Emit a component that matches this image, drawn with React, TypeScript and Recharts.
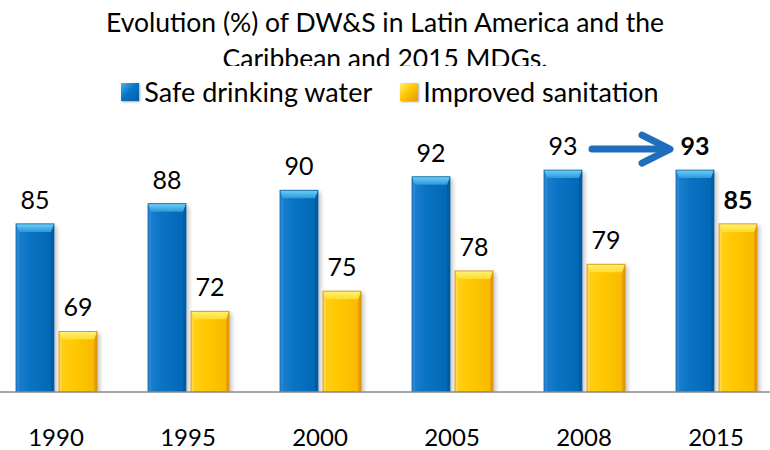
import React from 'react';
import { BarChart, Bar, XAxis, YAxis, LabelList, Legend } from 'recharts';

// Coverage (%) by year
const years = ['1990', '1995', '2000', '2005', '2008', '2015'];
const water = [85, 88, 90, 92, 93, 93];
const sanitation = [69, 72, 75, 78, 79, 85];
const seriesOrder = ['water', 'sanitation'];
const seriesNames = { water: 'Safe drinking water', sanitation: 'Improved sanitation' };
const titleLines = ['Evolution (%) of DW&S in Latin America and the', 'Caribbean and 2015 MDGs.'];

const data = years.map((year, i) => ({ year, water: water[i], sanitation: sanitation[i] }));

const FONT = 'Lato, "Open Sans", sans-serif';
const LABEL_SIZE = 25;
const TICK_SIZE = 24;
const TITLE_SIZE = 26.5;
const LEGEND_SIZE = 27;

type Palette = { body: string; top: string; left: string; right: string; edge: string };
const bluePalette: Palette = { body: 'blueBody', top: 'blueTop', left: '#2a8ad6', right: '#005a9e', edge: '#0a5f9f' };
const yellowPalette: Palette = { body: 'yellowBody', top: 'yellowTop', left: '#ffd84a', right: '#e29a00', edge: '#d48a10' };

// Bevelled column with a soft drop shadow on its right side
function makeBevelBar(p: Palette) {
  return (props: any) => {
    const { x, y, width: w, height: h } = props;
    if (!h || h <= 0) return <g />;
    const b = Math.min(8, h / 2);
    const s = 3;
    return (
      <g>
        <rect x={x + 3} y={y + 2} width={w} height={h} fill="#000" opacity={0.22} filter="url(#barShadow)" />
        <rect x={x} y={y} width={w} height={h} fill={`url(#${p.body})`} />
        <polygon points={`${x},${y} ${x + s},${y + b} ${x + s},${y + h} ${x},${y + h}`} fill={p.left} opacity={0.8} />
        <polygon points={`${x + w},${y} ${x + w - s},${y + b} ${x + w - s},${y + h} ${x + w},${y + h}`} fill={p.right} opacity={0.8} />
        <polygon
          points={`${x},${y} ${x + w},${y} ${x + w - s},${y + b} ${x + s},${y + b}`}
          fill={`url(#${p.top})`}
        />
        <rect x={x} y={y} width={w} height={h} fill="none" stroke={p.edge} strokeWidth={0.8} />
      </g>
    );
  };
}

const BlueBar = makeBevelBar(bluePalette);
const YellowBar = makeBevelBar(yellowPalette);

// Value label above each column; the 2015 target values are bold
function makeValueLabel(withArrow: boolean) {
  return (props: any) => {
    const { x, y, width, value, index } = props;
    const cx = x + width / 2;
    const bold = index === years.length - 1;
    const showArrow = withArrow && index === years.length - 2;
    const ay = y - 21;
    const ax0 = x + width + 10;
    const ax1 = x + width + 88;
    return (
      <g>
        <text
          x={cx}
          y={y - 15}
          textAnchor="middle"
          fontFamily={FONT}
          fontSize={LABEL_SIZE}
          fontWeight={bold ? 700 : 400}
          fill="#000"
        >
          {value}
        </text>
        {showArrow && (
          <g stroke="#1f6ebd" strokeWidth={7} strokeLinecap="round" strokeLinejoin="round" fill="none">
            <line x1={ax0} y1={ay} x2={ax1 - 4} y2={ay} />
            <polyline points={`${ax1 - 28},${ay - 14} ${ax1},${ay} ${ax1 - 28},${ay + 14}`} />
          </g>
        )}
      </g>
    );
  };
}

const YearTick = (props: any) => {
  const { x, y, payload } = props;
  return (
    <text x={x} y={y + 54} textAnchor="middle" fontFamily={FONT} fontSize={TICK_SIZE} fill="#000">
      {payload.value}
    </text>
  );
};

const swatch = (key: string) =>
  key === 'water'
    ? 'linear-gradient(135deg, #49b6ee 0%, #0b75c6 45%, #005ea8 100%)'
    : 'linear-gradient(135deg, #fff070 0%, #ffc400 50%, #e39a00 100%)';

const LegendContent = (props: any) => {
  const payload = [...(props.payload || [])].sort(
    (a: any, b: any) => seriesOrder.indexOf(a.dataKey) - seriesOrder.indexOf(b.dataKey)
  );
  return (
    <div
      style={{
        display: 'flex',
        justifyContent: 'center',
        alignItems: 'center',
        paddingLeft: 8,
        fontFamily: FONT,
        fontSize: LEGEND_SIZE,
        lineHeight: '30px',
        color: '#000',
      }}
    >
      {payload.map((item: any, i: number) => (
        <div key={i} style={{ display: 'flex', alignItems: 'center', marginLeft: i === 0 ? 0 : 28 }}>
          <span
            style={{
              display: 'inline-block',
              width: 18,
              height: 18,
              marginRight: 5,
              background: swatch(item.dataKey),
              boxShadow: '1px 1px 2px rgba(0,0,0,0.35)',
            }}
          />
          <span>{item.value}</span>
        </div>
      ))}
    </div>
  );
};

export default function App() {
  return (
    <div
      style={{
        position: 'fixed',
        left: 0,
        top: 0,
        width: 770,
        height: 450,
        overflow: 'hidden',
        background: '#fff',
      }}
    >
      <div
        style={{
          position: 'absolute',
          left: 0,
          top: 4,
          width: 770,
          height: 62,
          overflow: 'hidden',
          textAlign: 'center',
          fontFamily: FONT,
          fontSize: TITLE_SIZE,
          lineHeight: '36px',
          color: '#000',
        }}
      >
        {titleLines.map((t, i) => (
          <div key={i}>{t}</div>
        ))}
      </div>
      <div style={{ position: 'absolute', left: -10, top: 0 }}>
        <BarChart
          width={792}
          height={450}
          data={data}
          margin={{ top: 123, right: 0, bottom: 0, left: 0 }}
          barSize={38}
          barGap={5}
        >
          <defs>
            <linearGradient id="blueBody" x1="0" y1="0" x2="1" y2="0">
              <stop offset="0%" stopColor="#1f80cf" />
              <stop offset="35%" stopColor="#0a74c4" />
              <stop offset="100%" stopColor="#0066b4" />
            </linearGradient>
            <linearGradient id="blueTop" x1="0" y1="0" x2="0" y2="1">
              <stop offset="0%" stopColor="#6fd0f7" />
              <stop offset="100%" stopColor="#2a98dc" />
            </linearGradient>
            <linearGradient id="yellowBody" x1="0" y1="0" x2="1" y2="0">
              <stop offset="0%" stopColor="#ffcf1a" />
              <stop offset="40%" stopColor="#ffc800" />
              <stop offset="100%" stopColor="#f7b800" />
            </linearGradient>
            <linearGradient id="yellowTop" x1="0" y1="0" x2="0" y2="1">
              <stop offset="0%" stopColor="#fff27a" />
              <stop offset="100%" stopColor="#ffdc2a" />
            </linearGradient>
            <filter id="barShadow" x="-30%" y="-10%" width="160%" height="130%">
              <feGaussianBlur stdDeviation="2" />
            </filter>
          </defs>
          <YAxis hide domain={[60, 100]} allowDataOverflow />
          <Legend
            verticalAlign="middle"
            align="center"
            layout="horizontal"
            wrapperStyle={{ top: 77, left: 0, width: 792 }}
            content={<LegendContent />}
          />
          <Bar dataKey="water" name={seriesNames.water} shape={BlueBar} isAnimationActive={false}>
            <LabelList dataKey="water" content={makeValueLabel(true)} />
          </Bar>
          <Bar dataKey="sanitation" name={seriesNames.sanitation} shape={YellowBar} isAnimationActive={false}>
            <LabelList dataKey="sanitation" content={makeValueLabel(false)} />
          </Bar>
          <XAxis
            dataKey="year"
            height={58}
            tickLine={false}
            tickSize={0}
            tickMargin={0}
            axisLine={{ stroke: '#8a8a8a', strokeWidth: 1.5 }}
            tick={<YearTick />}
            interval={0}
          />
        </BarChart>
      </div>
    </div>
  );
}
